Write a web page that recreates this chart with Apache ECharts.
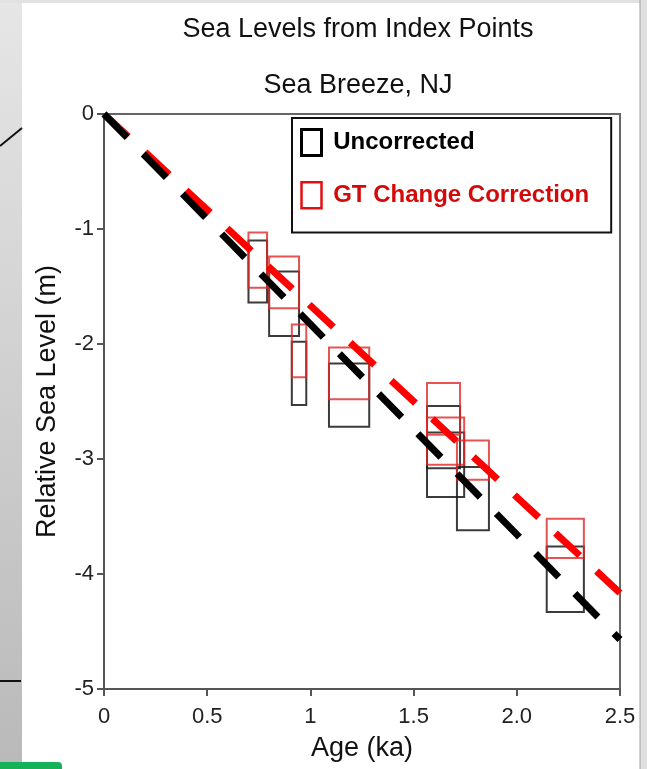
<!DOCTYPE html>
<html>
<head>
<meta charset="utf-8">
<script src="https://cdn.jsdelivr.net/npm/echarts@6/dist/echarts.min.js"></script>
<style>
  html, body { margin: 0; padding: 0; }
  #chart { width: 647px; height: 769px; }
</style>
</head>
<body>
<div id="chart"></div>
<script>
// tick labels (as printed on the figure)
const xTickLabels = ['0', '0.5', '1', '1.5', '2.0', '2.5'];
const yTickLabels = ['0', '-1', '-2', '-3', '-4', '-5'];

// index point boxes: age range (ka) and sea-level range (m)
const ageStart = [0.70, 0.80, 0.91, 1.09, 1.565, 1.565, 1.71, 2.145];
const ageEnd = [0.79, 0.945, 0.98, 1.285, 1.725, 1.745, 1.865, 2.325];
const uncorrTop = [-1.10, -1.37, -1.98, -2.17, -2.54, -2.77, -3.07, -3.76];
const uncorrBottom = [-1.64, -1.93, -2.53, -2.72, -3.08, -3.33, -3.62, -4.33];
const corrTop = [-1.03, -1.24, -1.83, -2.03, -2.34, -2.64, -2.84, -3.52];
const corrBottom = [-1.51, -1.69, -2.29, -2.48, -2.79, -3.05, -3.18, -3.86];

// trend lines
const trendAge = [0, 2.5];
const uncorrTrend = [0, -4.57];
const corrTrend = [0, -4.165];

const font = 'Liberation Sans, Arial, sans-serif';

const boxRenderer = (color) => (params, api) => {
  const p0 = api.coord([api.value(0), api.value(2)]);
  const p1 = api.coord([api.value(1), api.value(3)]);
  return {
    type: 'rect',
    shape: { x: p0[0], y: p0[1], width: p1[0] - p0[0], height: p1[1] - p0[1] },
    style: { fill: 'none', stroke: color, lineWidth: 2 }
  };
};

const chart = echarts.init(document.getElementById('chart'));
chart.setOption({
  animation: false,
  backgroundColor: '#fff',
  title: {
    text: 'Sea Levels from Index Points',
    subtext: 'Sea Breeze, NJ',
    left: 353,
    top: 11,
    textAlign: 'center',
    itemGap: 29,
    textStyle: { fontFamily: font, fontSize: 27, fontWeight: 'normal', color: '#111' },
    subtextStyle: { fontFamily: font, fontSize: 27, color: '#111' }
  },
  // slide decoration around the figure
  graphic: [
    { type: 'rect', shape: { x: 0, y: 0, width: 22, height: 769 }, silent: true,
      style: { fill: new echarts.graphic.LinearGradient(0, 0, 0, 1, [
        { offset: 0, color: '#e6e6e6' }, { offset: 1, color: '#b9b9b9' }]) } },
    { type: 'rect', shape: { x: 0, y: 0, width: 647, height: 3 }, silent: true, style: { fill: '#e2e2e2' } },
    { type: 'rect', shape: { x: 640, y: 0, width: 7, height: 769 }, silent: true, style: { fill: '#e0e0e0' } },
    { type: 'line', shape: { x1: 640, y1: 0, x2: 640, y2: 769 }, silent: true, style: { stroke: '#a0a0a0', lineWidth: 1 } },
    { type: 'line', shape: { x1: 0, y1: 146, x2: 22, y2: 128 }, silent: true, style: { stroke: '#111', lineWidth: 2 } },
    { type: 'line', shape: { x1: 0, y1: 681, x2: 21, y2: 681 }, silent: true, style: { stroke: '#111', lineWidth: 2 } },
    { type: 'rect', shape: { x: 0, y: 762, width: 62, height: 10, r: [0, 4, 0, 0] }, silent: true, style: { fill: '#16b25a' } }
  ],
  grid: {
    left: 104, right: 27, top: 114, bottom: 80,
    show: true, borderColor: '#666', borderWidth: 2, backgroundColor: 'transparent'
  },
  legend: {
    orient: 'vertical',
    left: 292,
    top: 118,
    padding: [10, 22, 23, 8],
    itemGap: 24,
    itemWidth: 20,
    itemHeight: 26,
    borderColor: '#111',
    borderWidth: 2,
    backgroundColor: '#fff',
    icon: 'rect',
    formatter: (name) => ' ' + name,
    textStyle: { fontFamily: font, fontSize: 24, fontWeight: 'bold' },
    data: [
      { name: 'Uncorrected',
        itemStyle: { color: 'rgba(0,0,0,0)', borderColor: '#000', borderWidth: 3 },
        textStyle: { color: '#000' } },
      { name: 'GT Change Correction',
        itemStyle: { color: 'rgba(0,0,0,0)', borderColor: '#e01010', borderWidth: 2.5 },
        textStyle: { color: '#d40a0a' } }
    ]
  },
  xAxis: {
    type: 'value',
    min: 0, max: 2.5, interval: 0.5,
    name: 'Age (ka)',
    nameLocation: 'middle',
    nameGap: 46,
    nameTextStyle: { fontFamily: font, fontSize: 27, color: '#111' },
    axisLine: { onZero: false, lineStyle: { color: '#555', width: 2 } },
    axisTick: { length: 7, lineStyle: { color: '#555', width: 2 } },
    axisLabel: {
      margin: 17, fontFamily: font, fontSize: 22, color: '#222',
      formatter: (v) => xTickLabels[Math.round(v / 0.5)]
    },
    splitLine: { show: false }
  },
  yAxis: {
    type: 'value',
    min: -5, max: 0, interval: 1,
    name: 'Relative Sea Level (m)',
    nameLocation: 'middle',
    nameGap: 43,
    nameTextStyle: { fontFamily: font, fontSize: 27, color: '#111' },
    axisLine: { onZero: false, lineStyle: { color: '#555', width: 2 } },
    axisTick: { length: 7, lineStyle: { color: '#555', width: 2 } },
    axisLabel: {
      margin: 10, fontFamily: font, fontSize: 22, color: '#222',
      formatter: (v) => yTickLabels[Math.round(-v)]
    },
    splitLine: { show: false }
  },
  series: [
    {
      name: 'Uncorrected',
      type: 'custom',
      renderItem: boxRenderer('rgba(25,25,25,0.85)'),
      encode: { x: [0, 1], y: [2, 3] },
      data: ageStart.map((a, i) => [a, ageEnd[i], uncorrTop[i], uncorrBottom[i]]),
      z: 2
    },
    {
      name: 'GT Change Correction',
      type: 'custom',
      renderItem: boxRenderer('rgba(225,40,40,0.8)'),
      encode: { x: [0, 1], y: [2, 3] },
      data: ageStart.map((a, i) => [a, ageEnd[i], corrTop[i], corrBottom[i]]),
      z: 2
    },
    {
      name: 'GT corrected trend',
      type: 'line',
      showSymbol: false,
      silent: true,
      data: trendAge.map((a, i) => [a, corrTrend[i]]),
      lineStyle: { color: '#ff0000', width: 7, type: [33, 23], cap: 'butt' },
      z: 3
    },
    {
      name: 'Uncorrected trend',
      type: 'line',
      showSymbol: false,
      silent: true,
      data: trendAge.map((a, i) => [a, uncorrTrend[i]]),
      lineStyle: { color: '#000', width: 7, type: [33, 23], cap: 'butt' },
      z: 4
    }
  ]
});
</script>
</body>
</html>
